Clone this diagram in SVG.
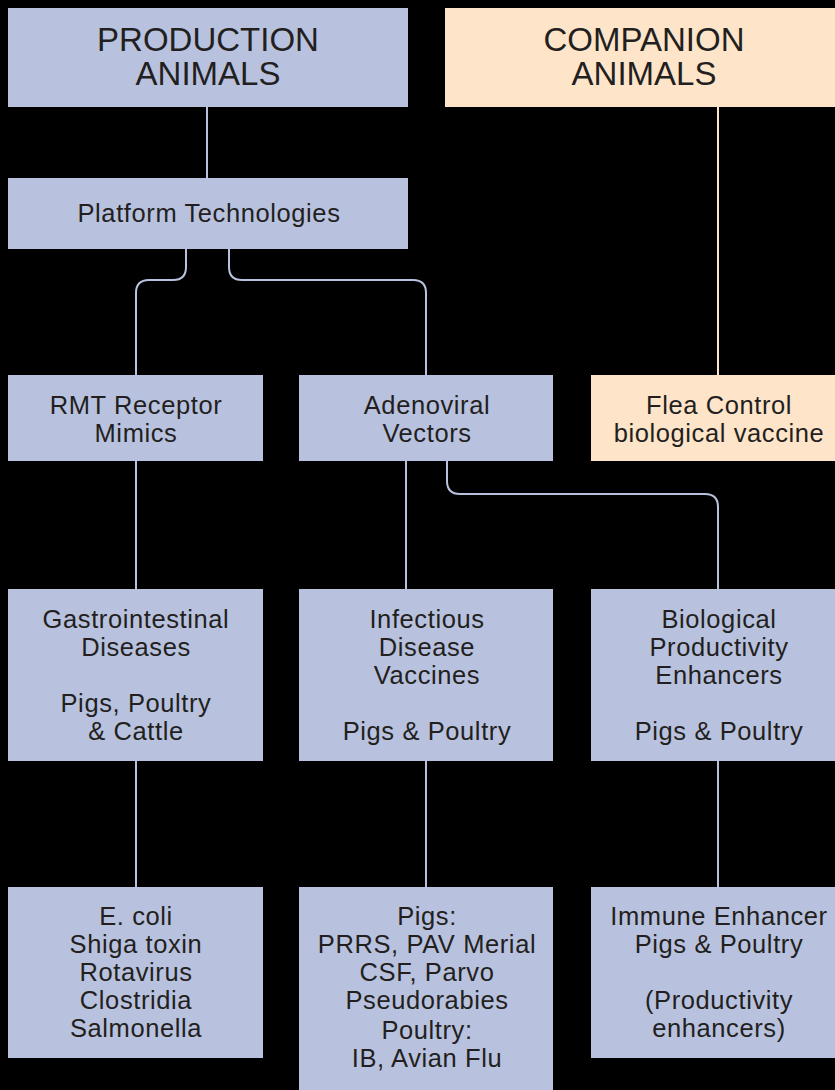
<svg xmlns="http://www.w3.org/2000/svg" width="835" height="1090" viewBox="0 0 835 1090">
<style>
.b{fill:#b8c2de}
.o{fill:#fee5ca}
text{font-family:"Liberation Sans",Arial,sans-serif;font-size:25.5px;letter-spacing:0.6px;fill:#231f20;text-anchor:middle}
.t{font-size:33px;letter-spacing:0}
.c{fill:none;stroke:#b8c2de;stroke-width:2}
.co{fill:none;stroke:#fee5ca;stroke-width:2}
</style>
<rect width="835" height="1090" fill="#000"/>
<g id="connectors">
<path class="c" d="M207 107V178"/>
<path class="c" d="M186 249V267Q186 280 173 280H149Q136 280 136 293V375"/>
<path class="c" d="M229 249V267Q229 280 242 280H413Q426 280 426 293V375"/>
<path class="co" d="M718 107V375"/>
<path class="c" d="M136 461V589"/>
<path class="c" d="M406 461V589"/>
<path class="c" d="M447 461V481Q447 494 460 494H705Q718 494 718 507V589"/>
<path class="c" d="M136 761V887"/>
<path class="c" d="M426 761V887"/>
<path class="c" d="M718 761V887"/>
</g>
<g id="production">
<rect class="b" x="8" y="8" width="400" height="99"/>
<text class="t" x="208" y="51">PRODUCTION</text>
<text class="t" x="208" y="85">ANIMALS</text>
</g>
<g id="companion">
<rect class="o" x="445" y="8" width="390" height="99"/>
<text class="t" x="644" y="51">COMPANION</text>
<text class="t" x="644" y="85">ANIMALS</text>
</g>
<g id="platform">
<rect class="b" x="8" y="178" width="400" height="71"/>
<text x="209" y="222">Platform Technologies</text>
</g>
<g id="rmt">
<rect class="b" x="8" y="375" width="255" height="86"/>
<text x="136" y="414">RMT Receptor</text>
<text x="136" y="442">Mimics</text>
</g>
<g id="adenoviral">
<rect class="b" x="299" y="375" width="254" height="86"/>
<text x="427" y="414">Adenoviral</text>
<text x="427" y="442">Vectors</text>
</g>
<g id="flea">
<rect class="o" x="591" y="375" width="244" height="86"/>
<text x="719" y="414">Flea Control</text>
<text x="719" y="442">biological vaccine</text>
</g>
<g id="gastro">
<rect class="b" x="8" y="589" width="255" height="172"/>
<text x="136" y="628">Gastrointestinal</text>
<text x="136" y="656">Diseases</text>
<text x="136" y="712">Pigs, Poultry</text>
<text x="136" y="740">&amp; Cattle</text>
</g>
<g id="infectious">
<rect class="b" x="299" y="589" width="254" height="172"/>
<text x="427" y="628">Infectious</text>
<text x="427" y="656">Disease</text>
<text x="427" y="684">Vaccines</text>
<text x="427" y="740">Pigs &amp; Poultry</text>
</g>
<g id="biological">
<rect class="b" x="591" y="589" width="244" height="172"/>
<text x="719" y="628">Biological</text>
<text x="719" y="656">Productivity</text>
<text x="719" y="684">Enhancers</text>
<text x="719" y="740">Pigs &amp; Poultry</text>
</g>
<g id="pathogens">
<rect class="b" x="8" y="887" width="255" height="171"/>
<text x="136" y="925">E. coli</text>
<text x="136" y="953">Shiga toxin</text>
<text x="136" y="981">Rotavirus</text>
<text x="136" y="1009">Clostridia</text>
<text x="136" y="1037">Salmonella</text>
</g>
<g id="vaccines">
<rect class="b" x="299" y="887" width="254" height="203"/>
<text x="427" y="925">Pigs:</text>
<text x="427" y="953">PRRS, PAV Merial</text>
<text x="427" y="981">CSF, Parvo</text>
<text x="427" y="1009">Pseudorabies</text>
<text x="427" y="1039">Poultry:</text>
<text x="427" y="1067">IB, Avian Flu</text>
</g>
<g id="immune">
<rect class="b" x="591" y="887" width="244" height="171"/>
<text x="719" y="925">Immune Enhancer</text>
<text x="719" y="953">Pigs &amp; Poultry</text>
<text x="719" y="1009">(Productivity</text>
<text x="719" y="1037">enhancers)</text>
</g>
</svg>
